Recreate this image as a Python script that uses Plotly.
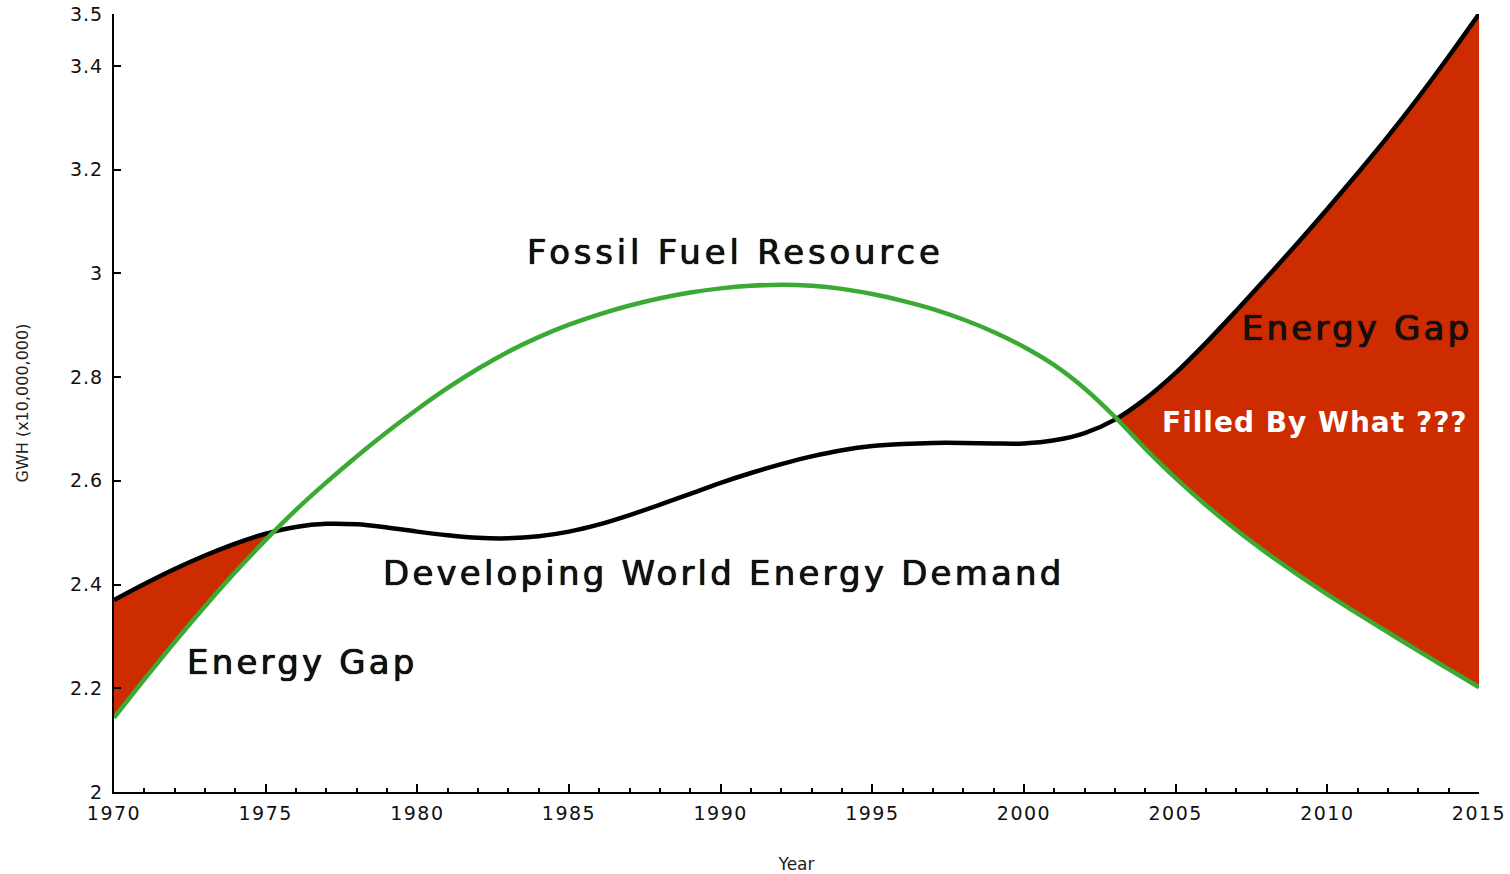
import plotly.graph_objects as go

years = list(range(1970, 2016))

demand = [2.370, 2.401, 2.430, 2.456, 2.479, 2.498, 2.511, 2.517, 2.516, 2.510,
          2.502, 2.495, 2.490, 2.489, 2.493, 2.502, 2.516, 2.534, 2.554, 2.575,
          2.596, 2.615, 2.632, 2.647, 2.659, 2.667, 2.671, 2.673, 2.673, 2.672,
          2.672, 2.678, 2.692, 2.718, 2.758, 2.808, 2.866, 2.928, 2.992, 3.057,
          3.124, 3.193, 3.264, 3.339, 3.418, 3.500]

supply = [2.143, 2.217, 2.289, 2.358, 2.424, 2.486, 2.544, 2.597, 2.647, 2.694,
          2.738, 2.779, 2.816, 2.849, 2.877, 2.901, 2.921, 2.938, 2.952, 2.963,
          2.971, 2.976, 2.978, 2.976, 2.970, 2.960, 2.947, 2.931, 2.911, 2.887,
          2.858, 2.823, 2.778, 2.723, 2.662, 2.605, 2.553, 2.505, 2.461, 2.420,
          2.381, 2.344, 2.308, 2.272, 2.237, 2.202]

y_ticks = [2, 2.2, 2.4, 2.6, 2.8, 3, 3.2, 3.4, 3.5]
x_ticks = [1970, 1975, 1980, 1985, 1990, 1995, 2000, 2005, 2010, 2015]

# Helper for the gap fill: upper envelope, with crossing points inserted
fx, fs, fm = [], [], []
for i in range(len(years)):
    fx.append(years[i]); fs.append(supply[i]); fm.append(max(demand[i], supply[i]))
    if i < len(years) - 1:
        d0 = demand[i] - supply[i]
        d1 = demand[i + 1] - supply[i + 1]
        if d0 * d1 < 0:
            t = d0 / (d0 - d1)
            xc = years[i] + t
            yc = supply[i] + t * (supply[i + 1] - supply[i])
            fx.append(xc); fs.append(yc); fm.append(yc)

RED = "#cc2c00"
GREEN = "#3aaa35"
FONT = "DejaVu Sans"

fig = go.Figure()
fig.add_trace(go.Scatter(x=fx, y=fs, mode="lines", line=dict(width=0, color=RED),
                         hoverinfo="skip", showlegend=False))
fig.add_trace(go.Scatter(x=fx, y=fm, mode="lines", line=dict(width=0, color=RED),
                         fill="tonexty", fillcolor=RED, hoverinfo="skip", showlegend=False))
fig.add_trace(go.Scatter(x=years, y=demand, mode="lines", name="Developing World Energy Demand",
                         line=dict(color="black", width=4.5, shape="spline", smoothing=1.0),
                         showlegend=False))
fig.add_trace(go.Scatter(x=years, y=supply, mode="lines", name="Fossil Fuel Resource",
                         line=dict(color=GREEN, width=4.5, shape="spline", smoothing=1.0),
                         showlegend=False))

def ann(text, x, y, size, color="#111111", bold=False, ls=0):
    t = f"<b>{text}</b>" if bold else text
    if ls:
        t = f"<span style='letter-spacing:{ls}px'>{t}</span>"
    fig.add_annotation(x=x, y=y, xref="x", yref="y", text=t, showarrow=False,
                       font=dict(family=FONT, size=size, color=color,
                                 shadow=("none" if bold else "0px 0px 0.8px #000000, 0px 0px 0.8px #000000")),
                       xanchor="center", yanchor="middle")

ann("Fossil Fuel Resource", 1990.5, 3.041, 34, ls=3.8)
ann("Developing World Energy Demand", 1990.1, 2.422, 34, ls=3.2)
ann("Energy Gap", 1976.2, 2.251, 34, ls=3.2)
ann("Energy Gap", 2011.0, 2.895, 34, ls=3.2)
ann("Filled By What ???", 2009.6, 2.713, 28, color="white", bold=True, ls=1)

def sp(v, ls):
    return f"<span style='letter-spacing:{ls}px'>{v}</span>"

fig.update_layout(
    width=1510, height=874,
    margin=dict(l=114, r=31, t=14, b=82, autoexpand=False),
    paper_bgcolor="white", plot_bgcolor="white",
    font=dict(family=FONT, color="#222222"),
    xaxis=dict(range=[1970, 2015], tickvals=x_ticks, ticktext=[sp(v, 1.5) for v in x_ticks],
               ticks="inside", ticklen=8, ticklabelstandoff=3,
               tickwidth=1.5, tickcolor="black", automargin=False,
               minor=dict(dtick=1, tick0=1970, ticks="inside", ticklen=4, tickcolor="black", showgrid=False),
               showline=True, linecolor="black", linewidth=2, showgrid=False, zeroline=False,
               tickfont=dict(size=19, color="#111111"),
               title=dict(text="Year", font=dict(size=17, color="#222222"), standoff=35)),
    yaxis=dict(range=[2, 3.5], tickvals=y_ticks, ticktext=[sp(v, 1) for v in y_ticks],
               ticks="inside", ticklen=7, tickwidth=1.5, tickcolor="black", automargin=False,
               ticklabelstandoff=5,
               showline=True, linecolor="black", linewidth=2, showgrid=False, zeroline=False,
               tickfont=dict(size=19, color="#111111"),
               title=dict(text="GWH (x10,000,000)", font=dict(size=16, color="#222222"), standoff=37)),
)

fig.write_html("out.html", config={"displayModeBar": False},
               post_script="document.body.style.margin='0';")
